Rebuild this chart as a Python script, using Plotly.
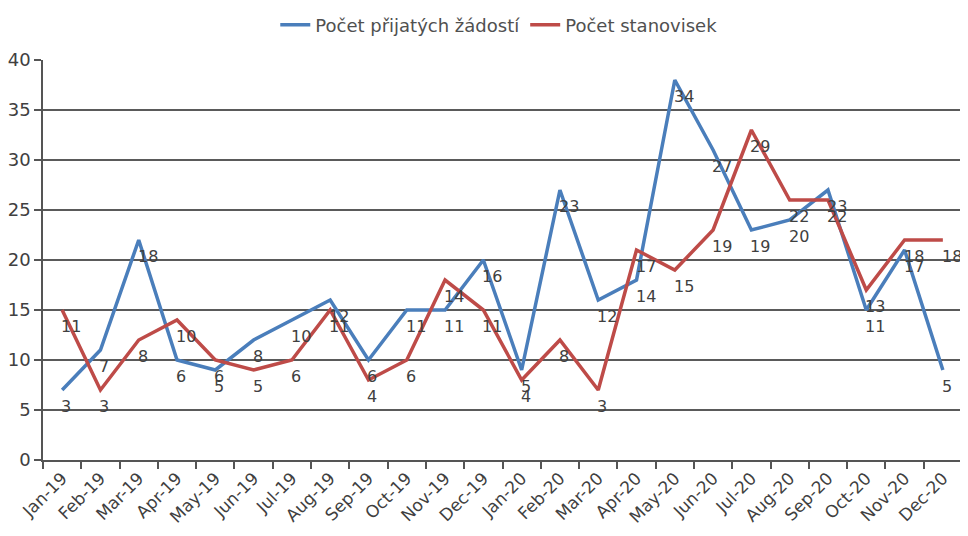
import plotly.graph_objects as go

months = ["Jan-19", "Feb-19", "Mar-19", "Apr-19", "May-19", "Jun-19", "Jul-19", "Aug-19",
          "Sep-19", "Oct-19", "Nov-19", "Dec-19", "Jan-20", "Feb-20", "Mar-20", "Apr-20",
          "May-20", "Jun-20", "Jul-20", "Aug-20", "Sep-20", "Oct-20", "Nov-20", "Dec-20"]

# values as drawn against the y axis
zadosti_plot = [7, 11, 22, 10, 9, 12, 14, 16, 10, 15, 15, 20, 9, 27, 16, 18, 38, 31, 23, 24, 27, 15, 21, 9]
stanoviska_plot = [15, 7, 12, 14, 10, 9, 10, 15, 8, 10, 18, 15, 8, 12, 7, 21, 19, 23, 33, 26, 26, 17, 22, 22]

# data labels as printed on the chart
zadosti_labels = [3, 7, 18, 6, 5, 8, 10, 12, 6, 11, 11, 16, 5, 23, 12, 14, 34, 27, 19, 20, 23, 11, 17, 5]
stanoviska_labels = [11, 3, 8, 10, 6, 5, 6, 11, 4, 6, 14, 11, 4, 8, 3, 17, 15, 19, 29, 22, 22, 13, 18, 18]

y_ticks = [0, 5, 10, 15, 20, 25, 30, 35, 40]

BLUE = "#4A7EBB"
RED = "#BE4B48"
FONT = "DejaVu Sans"
TXT = "#404040"

fig = go.Figure()
fig.add_trace(go.Scatter(x=months, y=zadosti_plot, mode="lines", name="Počet přijatých žádostí",
                         line=dict(color=BLUE, width=3.5)))
fig.add_trace(go.Scatter(x=months, y=stanoviska_plot, mode="lines", name="Počet stanovisek",
                         line=dict(color=RED, width=3.5)))

annotations = []
for vals, labs in ((zadosti_plot, zadosti_labels), (stanoviska_plot, stanoviska_labels)):
    for m, v, t in zip(months, vals, labs):
        annotations.append(dict(x=m, y=v, text=str(t), showarrow=False, xanchor="left",
                                yanchor="middle", xshift=-3, yshift=-16,
                                font=dict(family=FONT, size=16, color=TXT)))

fig.update_layout(
    width=968, height=536,
    margin=dict(l=35, r=14, t=52, b=84, autoexpand=False),
    paper_bgcolor="white", plot_bgcolor="white",
    font=dict(family=FONT, size=15, color=TXT),
    showlegend=True,
    legend=dict(orientation="h", xref="container", x=0.507, xanchor="center",
                yref="container", y=0.968, yanchor="middle",
                font=dict(family=FONT, size=18, color="#505050"),
                itemwidth=30, tracegroupgap=0),
    annotations=annotations,
)
fig.update_xaxes(type="category", range=[-0.5, len(months) - 0.5], tickangle=-45,
                 ticks="outside", tickson="boundaries",
                 ticklen=7, tickcolor="#555", tickwidth=1.5, showline=True, linecolor="#555",
                 linewidth=1.5, showgrid=False, automargin=False,
                 tickfont=dict(family=FONT, size=17, color=TXT))
fig.update_yaxes(range=[0, 40], tickvals=y_ticks, ticks="outside", ticklen=7, tickcolor="#555",
                 tickwidth=1.5, showline=True, linecolor="#555", linewidth=1.5,
                 showgrid=True, gridcolor="#5a5a5a", gridwidth=1.5, zeroline=False,
                 automargin=False, tickfont=dict(family=FONT, size=18, color=TXT))

fig.write_html("out.html")
